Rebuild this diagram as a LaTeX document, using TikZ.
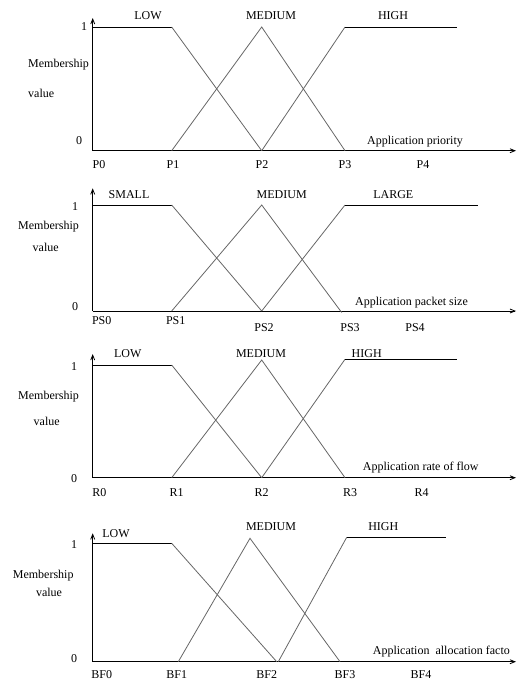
\documentclass[tikz,border=0pt]{standalone}
\usepackage{fontspec}
\setmainfont{Liberation Serif}
\usetikzlibrary{arrows.meta}
\begin{document}
\begin{tikzpicture}[x=1pt,y=-1pt,
  axis/.style={line width=0.8pt,black,-{Straight Barb[length=5pt,width=4pt]}},
  flat/.style={line width=0.8pt,black},
  slant/.style={line width=0.8pt,black!60},
  lbl/.style={inner sep=0pt,font=\fontsize{12}{14}\selectfont},
  lbll/.style={lbl,anchor=west}]
\useasboundingbox (0,0) rectangle (517,683);

% ---------------- Panel 1 ----------------
\coordinate (a0) at (92.7,150.7);
\coordinate (ay) at (92.7,18);
\coordinate (ax) at (516,150.7);
\draw[axis] (a0) -- (ay);
\draw[axis] (a0) -- (ax);
\coordinate (a1) at (92.7,27);
\coordinate (aL) at (171.7,27);
\coordinate (aP1) at (171.7,150.7);
\coordinate (aM) at (261.7,27);
\coordinate (aP2) at (261.7,150.7);
\coordinate (aH) at (345,27);
\coordinate (aP3) at (345,150.7);
\coordinate (aE) at (456.7,27);
\draw[flat] (a1) -- (aL);
\draw[slant] (aL) -- (aP2);
\draw[slant] (aP1) -- (aM) -- (aP3);
\draw[slant] (aP2) -- (aH);
\draw[flat] (aH) -- (aE);
\node[lbl] (a1t) at (84,27) {1};
\node[lbl] (a0t) at (79,141) {0};
\node[lbll] (amem) at (28,65) {Membership};
\node[lbll] (aval) at (28,93) {value};
\node[lbl] (alow) at (148,16) {LOW};
\node[lbl] (amed) at (271,16) {MEDIUM};
\node[lbl] (ahigh) at (393,16) {HIGH};
\node[lbll] (axl) at (367,142) {Application priority};
\node[lbl] (ap0) at (99,165) {P0};
\node[lbl] (ap1) at (173,165) {P1};
\node[lbl] (ap2) at (262,165) {P2};
\node[lbl] (ap3) at (345,165) {P3};
\node[lbl] (ap4) at (423,165) {P4};

% ---------------- Panel 2 ----------------
\coordinate (b0) at (92.7,311);
\coordinate (by) at (92.7,188.3);
\coordinate (bx) at (516,311);
\draw[axis] (b0) -- (by);
\draw[axis] (b0) -- (bx);
\coordinate (b1) at (92.7,205);
\coordinate (bL) at (171.7,205);
\coordinate (bP1) at (171.7,311);
\coordinate (bM) at (261.7,205);
\coordinate (bP2) at (261.7,311);
\coordinate (bH) at (345,205);
\coordinate (bP3) at (341.7,312.5);
\coordinate (bE) at (478.3,205);
\draw[flat] (b1) -- (bL);
\draw[slant] (bL) -- (bP2);
\draw[slant] (bP1) -- (bM) -- (bP3);
\draw[slant] (bP2) -- (bH);
\draw[flat] (bH) -- (bE);
\node[lbl] (b1t) at (75,206.7) {1};
\node[lbl] (b0t) at (75,306.7) {0};
\node[lbll] (bmem) at (18,226.7) {Membership};
\node[lbl] (bval) at (45.7,247.7) {value};
\node[lbl] (blow) at (129,194.3) {SMALL};
\node[lbl] (bmed) at (281.7,194.3) {MEDIUM};
\node[lbl] (bhigh) at (393.3,194.3) {LARGE};
\node[lbll] (bxl) at (355,302.3) {Application packet size};
\node[lbl] (bp0) at (101.7,320.7) {PS0};
\node[lbl] (bp1) at (175.7,320.7) {PS1};
\node[lbl] (bp2) at (264,327.3) {PS2};
\node[lbl] (bp3) at (350,327.3) {PS3};
\node[lbl] (bp4) at (415,327.3) {PS4};

% ---------------- Panel 3 ----------------
\coordinate (c0) at (92.7,477.7);
\coordinate (cy) at (92.7,354);
\coordinate (cx) at (516,477.7);
\draw[axis] (c0) -- (cy);
\draw[axis] (c0) -- (cx);
\coordinate (c1) at (92.7,365);
\coordinate (cL) at (171.7,365);
\coordinate (cP1) at (171.7,477.7);
\coordinate (cM) at (261.7,360);
\coordinate (cP2) at (261.7,477.7);
\coordinate (cH) at (345,359.3);
\coordinate (cP3) at (345,477.7);
\coordinate (cE) at (456.7,359.3);
\draw[flat] (c1) -- (cL);
\draw[slant] (cL) -- (cP2);
\draw[slant] (cP1) -- (cM) -- (cP3);
\draw[slant] (cP2) -- (cH);
\draw[flat] (cH) -- (cE);
\node[lbl] (c1t) at (74,366.7) {1};
\node[lbl] (c0t) at (74,478.3) {0};
\node[lbll] (cmem) at (18,396.7) {Membership};
\node[lbl] (cval) at (46.7,421) {value};
\node[lbl] (clow) at (127.7,354) {LOW};
\node[lbl] (cmed) at (261,354) {MEDIUM};
\node[lbl] (chigh) at (366.7,354) {HIGH};
\node[lbll] (cxl) at (362.7,467.3) {Application rate of flow};
\node[lbl] (cp0) at (99.3,492.3) {R0};
\node[lbl] (cp1) at (176.7,492.3) {R1};
\node[lbl] (cp2) at (261.7,492.3) {R2};
\node[lbl] (cp3) at (350,492.3) {R3};
\node[lbl] (cp4) at (421.7,492.3) {R4};

% ---------------- Panel 4 ----------------
\coordinate (d0) at (92.7,661.7);
\coordinate (dy) at (92.7,533.3);
\coordinate (dx) at (516,661.7);
\draw[axis] (d0) -- (dy);
\draw[axis] (d0) -- (dx);
\coordinate (d1) at (92.7,543.3);
\coordinate (dL) at (171.7,543.3);
\coordinate (dP2a) at (276.7,661.7);
\coordinate (dP1) at (178.3,661.7);
\coordinate (dM) at (250,538.3);
\coordinate (dP3) at (340,661.7);
\coordinate (dP2b) at (278.3,661.7);
\coordinate (dH) at (346.7,537.3);
\coordinate (dE) at (446,537.3);
\draw[flat] (d1) -- (dL);
\draw[slant] (dL) -- (dP2a);
\draw[slant] (dP1) -- (dM) -- (dP3);
\draw[slant] (dP2b) -- (dH);
\draw[flat] (dH) -- (dE);
\node[lbl] (d1t) at (74,545) {1};
\node[lbl] (d0t) at (74,658.3) {0};
\node[lbll] (dmem) at (12.7,576) {Membership};
\node[lbl] (dval) at (49,592.3) {value};
\node[lbl] (dlow) at (116,533.3) {LOW};
\node[lbl] (dmed) at (271,526.7) {MEDIUM};
\node[lbl] (dhigh) at (383.3,526.7) {HIGH};
\node[lbll] (dxl) at (372.7,651.7) {Application\ \ allocation facto};
\node[lbl] (dp0) at (101.7,675) {BF0};
\node[lbl] (dp1) at (176.7,675) {BF1};
\node[lbl] (dp2) at (266.7,675) {BF2};
\node[lbl] (dp3) at (345,675) {BF3};
\node[lbl] (dp4) at (421,675) {BF4};
\end{tikzpicture}
\end{document}
